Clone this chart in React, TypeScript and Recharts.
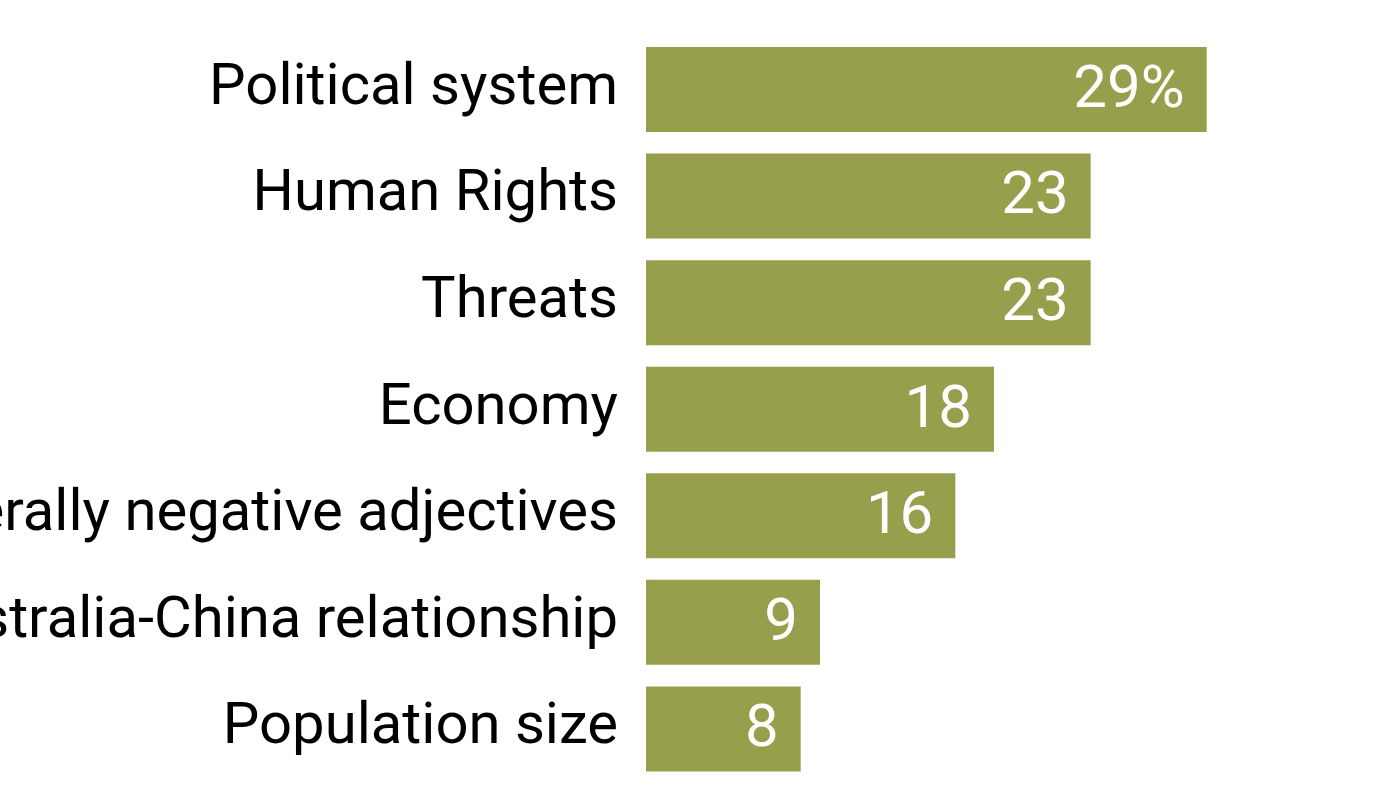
import { BarChart, Bar, XAxis, YAxis, LabelList } from "recharts"

const categories = [
  "Political system",
  "Human Rights",
  "Threats",
  "Economy",
  "Generally negative adjectives",
  "Australia-China relationship",
  "Population size",
]
const shares = [29, 23, 23, 18, 16, 9, 8]

const data = categories.map((topic, i) => ({ topic, share: shares[i] }))

const FONT = "Roboto, 'Liberation Sans', sans-serif"

export default function App() {
  return (
    <div style={{ position: "absolute", left: 0, top: 0, width: 1400, height: 789, background: "#fff" }}>
      <BarChart
        width={1400}
        height={789}
        data={data}
        layout="vertical"
        margin={{ top: 36, right: 0, bottom: 7, left: 0 }}
      >
        <XAxis type="number" domain={[0, 39]} hide />
        <YAxis
          type="category"
          dataKey="topic"
          width={646}
          axisLine={false}
          tickLine={false}
          tickSize={0}
          tickMargin={28}
          interval={0}
          tick={{ fill: "#000", fontSize: 58, fontFamily: FONT, dy: -6 }}
        />
        <Bar dataKey="share" fill="#989f4c" barSize={85} isAnimationActive={false}>
          <LabelList
            dataKey="share"
            position="insideRight"
            offset={22}
            fill="#fff"
            fontSize={60}
            fontFamily={FONT}
            dy={-4}
            formatter={(v: number) => (v === shares[0] ? `${v}%` : `${v}`)}
          />
        </Bar>
      </BarChart>
    </div>
  )
}
